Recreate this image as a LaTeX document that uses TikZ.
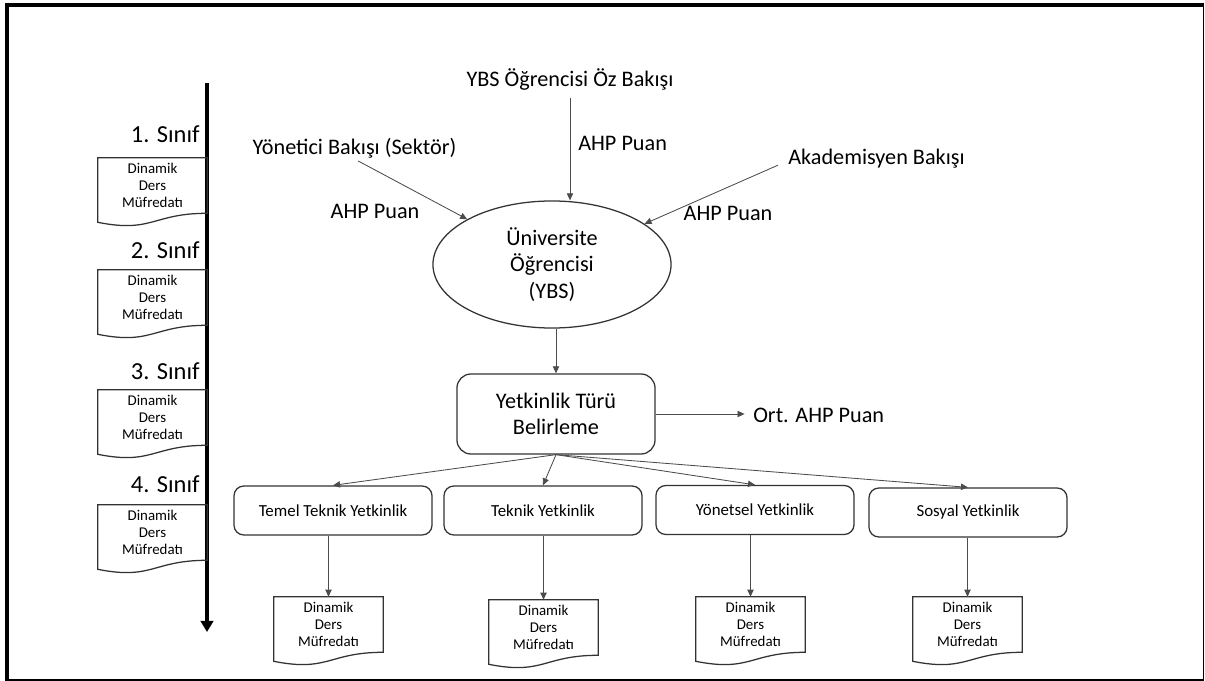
\documentclass[tikz,border=0pt]{standalone}
\usepackage{fontspec}
\setmainfont{Carlito}
\usetikzlibrary{arrows.meta,calc,shapes.geometric}

\tikzset{
  etiket/.style={inner sep=0pt, font=\fontsize{15.8}{18.8}\selectfont},
  sinif/.style={inner sep=0pt, anchor=base east, font=\fontsize{17.4}{20}\selectfont},
  kutu/.style={draw=black!80, line width=0.9pt, rounded corners=7pt,
    minimum width=4.95cm, minimum height=1.225cm, font=\fontsize{12}{14}\selectfont},
  belge/.style={minimum width=2.725cm, minimum height=1.375cm, inner sep=0pt,
    align=center, font=\fontsize{10.6}{12}\selectfont},
  ok/.style={->, draw=black!70, line width=0.6pt},
}

% belge sekli: alt kenari dalgali
\newcommand{\belgeciz}[1]{%
  \draw[black!80, line width=0.9pt] (#1.north west) -- (#1.north east) -- (#1.south east)
    .. controls (#1.south) and ($(#1.south)+(0,20)$) .. ($(#1.south west)+(0,9)$) -- cycle;}

\begin{document}
\begin{tikzpicture}[x=0.025cm, y=-0.025cm, >={Triangle[length=5pt,width=4.5pt]}]
    \useasboundingbox (0,0) rectangle (1205,681);

    % cerceve
    \draw[line width=3pt] (5,5) -- (1204,5);
    \draw[line width=3pt] (7,3) -- (7,681);
    \draw[line width=1.4pt] (1203.5,5) -- (1203.5,681);
    \draw[line width=1.4pt] (7,680) -- (1204,680);

    % zaman ekseni
    \coordinate (zbas) at (207,83);
    \coordinate (zson) at (207,632);
    \draw[-{Triangle[length=8pt,width=9pt]}, line width=3pt] (zbas) -- (zson);

    \foreach \i/\ys/\yb in {1/143/185.5, 2/259/297.5, 3/380/417.5, 4/493/532.5} {
        \node[sinif] (s\i) at (200,\ys) {\i. Sınıf};
        \node[belge] (b\i) at (152.5,\yb) {Dinamik\\Ders\\Müfredatı};
        \belgeciz{b\i}
    }

    % bakis acilari
    \node[etiket, anchor=base] (ybs) at (570,87) {YBS Öğrencisi Öz Bakışı};
    \node[etiket, anchor=base] (yonetici) at (354.5,155) {Yönetici Bakışı (Sektör)};
    \node[etiket, anchor=base] (akademi) at (876.5,165) {Akademisyen Bakışı};
    \node[etiket, anchor=base] (puan1) at (375,219) {AHP Puan};
    \node[etiket, anchor=base west] (puan2) at (578,151) {AHP Puan};
    \node[etiket, anchor=base] (puan3) at (728,221) {AHP Puan};

    \node[draw=black!80, line width=0.9pt, ellipse, minimum width=5.95cm, minimum height=3.175cm,
          inner sep=0pt, align=center, font=\fontsize{15.8}{18.8}\selectfont]
          (elips) at (552,264.5) {Üniversite\\Öğrencisi\\(YBS)};

    \draw[ok, shorten <=5pt] (ybs.south) -- (ybs.south |- elips.north);
    \draw[ok, shorten <=3pt] (yonetici.south) -- (elips);
    \draw[ok] ($(akademi.west)+(-10,6)$) -- (elips);

    % yetkinlik
    \node[kutu, minimum height=2cm, rounded corners=10pt, align=center,
          font=\fontsize{15.8}{19}\selectfont] (belirleme) at (556,414) {Yetkinlik Türü\\Belirleme};
    \node[etiket, anchor=base west] (ort) at (753,423) {Ort. AHP Puan};

    \draw[ok] (elips.south -| belirleme) -- (belirleme);
    \draw[ok, shorten >=6pt] (belirleme.east) -- (belirleme.east -| ort.west);

    \node[kutu] (temel) at (333,510.5) {Temel Teknik Yetkinlik};
    \node[kutu] (teknik) at (543,510.5) {Teknik Yetkinlik};
    \node[kutu] (yonetsel) at (755,510) {Yönetsel Yetkinlik};
    \node[kutu] (sosyal) at (968,512.5) {Sosyal Yetkinlik};

    \foreach \k in {temel,teknik,yonetsel,sosyal}
        \draw[ok] (belirleme.south) -- (\k.north);

    % mufredatlar
    \foreach \k/\d/\x/\y in {temel/d1/328.5/624.5, teknik/d2/543.5/627.5,
                             yonetsel/d3/750.5/624.5, sosyal/d4/967.5/624.5} {
        \node[belge] (\d) at (\x,\y) {Dinamik\\Ders\\Müfredatı};
        \belgeciz{\d}
        \draw[ok] (\k.south -| \d.north) -- (\d.north);
    }
\end{tikzpicture}
\end{document}
